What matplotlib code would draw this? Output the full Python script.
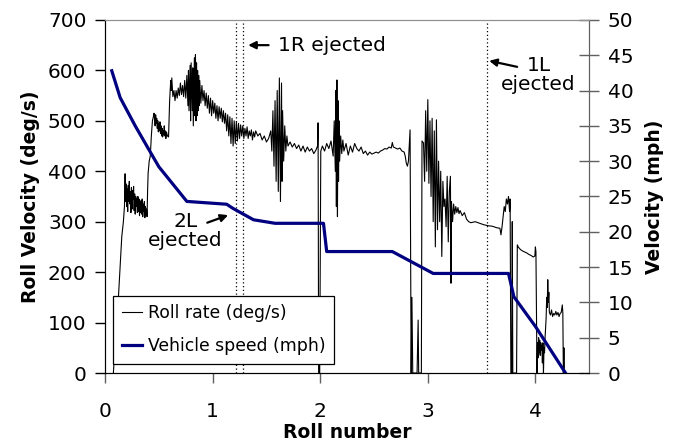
import numpy as np
import matplotlib.pyplot as plt

plt.rcParams['font.family'] = ['DejaVu Sans']

# roll rate (deg/s)
roll_x = [0.077, 0.10, 0.124, 0.14, 0.155, 0.17, 0.18, 0.186,
          0.19, 0.195, 0.20, 0.205, 0.21, 0.215, 0.22, 0.225, 0.23, 0.235, 0.24, 0.245,
          0.25, 0.255, 0.26, 0.265, 0.27, 0.275, 0.28, 0.285, 0.29, 0.295, 0.30, 0.305,
          0.31, 0.315, 0.32, 0.325, 0.33, 0.335, 0.34, 0.345, 0.35, 0.355, 0.36, 0.365,
          0.37, 0.375, 0.38, 0.385, 0.39,
          0.395, 0.40, 0.41, 0.42, 0.43, 0.44, 0.45,
          0.455, 0.46, 0.465, 0.47, 0.475, 0.48, 0.485, 0.49, 0.495, 0.50, 0.505, 0.51,
          0.515, 0.52, 0.525, 0.53, 0.535, 0.54, 0.545, 0.55, 0.555, 0.56, 0.565, 0.57,
          0.58, 0.59,
          0.60, 0.61, 0.615, 0.62, 0.63, 0.64, 0.65, 0.66, 0.67, 0.68, 0.69, 0.70, 0.71,
          0.72, 0.73, 0.74, 0.75, 0.76, 0.77, 0.775, 0.78, 0.79, 0.795, 0.80, 0.81, 0.815,
          0.82, 0.83, 0.835, 0.84, 0.845, 0.85, 0.855, 0.86, 0.865, 0.87, 0.875, 0.88,
          0.89, 0.90, 0.91, 0.92, 0.93, 0.94, 0.95, 0.96, 0.97, 0.98, 0.99, 1.00, 1.01,
          1.02, 1.03, 1.04, 1.05, 1.06, 1.07, 1.08, 1.09, 1.10, 1.11, 1.12, 1.13, 1.14,
          1.15, 1.16, 1.17, 1.18, 1.19, 1.20, 1.21, 1.22, 1.23, 1.24, 1.25, 1.26, 1.27,
          1.28, 1.29, 1.30, 1.31, 1.32, 1.33, 1.34, 1.35, 1.36, 1.37, 1.38, 1.39, 1.40,
          1.42, 1.44, 1.46, 1.48, 1.50, 1.52,
          1.54, 1.55, 1.56, 1.57, 1.58, 1.59, 1.60, 1.61, 1.62, 1.63, 1.64, 1.645, 1.65,
          1.66, 1.67, 1.68, 1.69, 1.70, 1.72, 1.74, 1.76, 1.78, 1.80, 1.82, 1.84, 1.86,
          1.88, 1.90, 1.92, 1.94, 1.96, 1.975,
          1.98, 1.985, 1.995, 2.005,
          2.02, 2.04, 2.06, 2.08, 2.10, 2.12, 2.13, 2.14, 2.145, 2.15, 2.155, 2.16, 2.165,
          2.17, 2.175, 2.18, 2.19, 2.20, 2.21, 2.22, 2.24, 2.26, 2.28, 2.30, 2.32, 2.34,
          2.36, 2.38, 2.40, 2.42, 2.44, 2.46, 2.48, 2.50, 2.52, 2.54, 2.56, 2.58, 2.60,
          2.62, 2.64, 2.66, 2.67, 2.68, 2.70, 2.72, 2.74, 2.76, 2.78, 2.79, 2.80, 2.81,
          2.82, 2.835,
          2.845, 2.852, 2.86, 2.90, 2.91, 2.915, 2.94,
          2.946, 2.96, 2.97, 2.98, 2.99, 3.00, 3.01, 3.02, 3.03, 3.04, 3.05, 3.06, 3.07,
          3.08, 3.09, 3.10, 3.11, 3.12, 3.13, 3.14, 3.15, 3.16, 3.17, 3.18, 3.19, 3.20,
          3.21, 3.215, 3.22, 3.23, 3.24, 3.25, 3.26, 3.27, 3.28, 3.29, 3.30, 3.32, 3.34,
          3.36, 3.38, 3.40, 3.44, 3.48, 3.52, 3.56, 3.60, 3.64, 3.67, 3.68, 3.69, 3.70,
          3.71, 3.72, 3.73, 3.74, 3.75, 3.76, 3.765,
          3.772, 3.78, 3.785, 3.79, 3.825,
          3.832, 3.84, 3.86, 3.88, 3.90, 3.92, 3.94, 3.96, 3.98, 3.995, 4.0, 4.005,
          4.015, 4.02, 4.025, 4.03, 4.035, 4.04, 4.045, 4.05, 4.055, 4.06, 4.065, 4.07,
          4.075, 4.08, 4.085, 4.09, 4.10, 4.105, 4.11, 4.115, 4.12, 4.125, 4.13, 4.14,
          4.15, 4.16, 4.17, 4.18, 4.19, 4.20, 4.21, 4.22, 4.23, 4.24, 4.25, 4.255,
          4.26, 4.265, 4.27]
roll_deg = [0, 80, 150, 210, 270, 300, 330, 395,
            340, 375, 330, 365, 320, 372, 340, 380, 335, 360, 318, 368,
            325, 362, 345, 370, 322, 355, 315, 350, 330, 345, 318, 350,
            320, 345, 312, 340, 318, 342, 315, 345, 310, 335, 320, 340,
            308, 330, 315, 325, 310,
            360, 396, 420, 430, 470, 500, 509,
            515, 505, 490, 512, 495, 505, 485, 500, 478, 495, 480, 498,
            475, 490, 470, 485, 468, 480, 472, 490, 470, 480, 465, 478,
            470, 468,
            540, 580, 560, 585, 548, 560, 540, 560, 545, 565, 550, 575, 552,
            570, 548, 580, 545, 590, 530, 600, 520, 610, 500, 615, 520, 605,
            490, 625, 510, 631, 500, 615, 510, 600, 520, 590, 530, 580,
            535, 570, 540, 560, 530, 555, 525, 550, 515, 545, 510, 540, 515,
            535, 505, 530, 500, 528, 505, 525, 498, 520, 495, 515, 480, 512,
            470, 508, 455, 505, 450, 500, 455, 498, 460, 495, 465, 492, 470,
            490, 465, 485, 470, 488, 465, 480, 470, 482, 462, 478, 468, 480,
            470, 475, 462, 470, 458, 465,
            480, 440, 520, 410, 540, 380, 560, 360, 585, 340, 575, 380, 520,
            420, 490, 440, 470, 450, 458, 448, 455, 445, 452, 440, 450, 438,
            448, 440, 445, 435, 442, 450,
            496, 0, 0, 440,
            450, 440, 455, 445, 460, 430, 500, 400, 560, 330, 581, 310, 540,
            380, 500, 420, 470, 435, 462, 440, 455, 432, 450, 438, 455, 445,
            440, 448, 435, 440, 432, 438, 434, 436, 438, 436, 440, 442, 445,
            444, 448, 446, 457, 448, 446, 444, 446, 440, 438, 430, 416, 410,
            420, 482,
            0, 150, 0, 0, 105, 0, 0,
            460, 456, 380, 520, 400, 542, 376, 500, 350, 505, 300, 480, 250,
            502, 284, 420, 300, 400, 231, 380, 330, 345, 290, 390, 260, 360,
            390, 178, 340, 300, 335, 315, 330, 318, 328, 316, 322, 312, 318,
            305, 300, 298, 300, 297, 294, 292, 291, 288, 287, 274, 290, 310,
            330, 320, 345, 335, 350, 320, 345,
            0, 0, 300, 0, 0,
            254, 250, 245, 242, 240, 238, 235, 233, 230, 232, 250, 240,
            0, 60, 30, 70, 40, 65, 35, 60, 45, 55, 20, 60,
            0, 50, 40, 70, 110, 150, 130, 185, 140, 160, 120, 115,
            125, 112, 118, 115, 122, 115, 120, 112, 118, 120, 135, 120,
            0, 50, 0]

# vehicle speed (mph)
speed_x = [0.062, 0.14, 0.28, 0.42, 0.50, 0.76, 1.13, 1.19, 1.38, 1.58, 2.03, 2.06,
           2.67, 3.05, 3.75, 3.80, 4.0, 4.28]
speed_mph = [42.8, 39.0, 35.0, 31.3, 29.2, 24.3, 23.9, 23.3, 21.7, 21.2, 21.2, 17.2,
             17.2, 14.1, 14.1, 10.8, 6.6, 0]

events_x = [1.215, 1.285, 3.55]

fig = plt.figure(figsize=(6.78, 4.43), dpi=100)
ax = fig.add_axes([0.155, 0.158, 0.714, 0.797])
ax2 = ax.twinx()

l1, = ax.plot(roll_x, roll_deg, color='black', lw=0.8, label='Roll rate (deg/s)')
l2, = ax2.plot(speed_x, speed_mph, color='#000080', lw=2.3, label='Vehicle speed (mph)')

for ev in events_x:
    ax.axvline(ev, color='black', ls=(0, (1, 2)), lw=0.9)

ax.set_xlim(0, 4.5)
ax.set_ylim(0, 700)
ax2.set_ylim(0, 50)
ax.set_xticks([0, 1, 2, 3, 4])
ax.set_yticks(np.arange(0, 701, 100))
ax2.set_yticks(np.arange(0, 51, 5))

ax.tick_params(axis='y', direction='out', length=7, width=1, labelsize=14.5, pad=6.4)
ax.tick_params(axis='x', direction='out', length=7, width=1, labelsize=14.5, pad=14,
               color='#606060')
ax2.tick_params(axis='y', direction='inout', length=15, width=1, labelsize=14.5, pad=6,
                color='#606060')

for a in (ax, ax2):
    a.spines['top'].set_color('#909090')
    a.spines['right'].set_color('#606060')
    a.spines['left'].set_color('black')
    a.spines['bottom'].set_color('black')

ax.set_xlabel('Roll number', fontsize=13.5, fontweight='bold', labelpad=1)
ax.set_ylabel('Roll Velocity (deg/s)', fontsize=13.5, fontweight='bold', labelpad=6)
ax2.set_ylabel('Velocity (mph)', fontsize=13.5, fontweight='bold', labelpad=8)

arrow = dict(arrowstyle='-|>', color='black', lw=1.6, mutation_scale=11, shrinkA=0, shrinkB=0)
ax.annotate('', xy=(1.33, 650), xytext=(1.52, 650), arrowprops=arrow)
ax.text(1.61, 650, '1R ejected', fontsize=14.5, ha='left', va='center')
ax.annotate('', xy=(3.57, 619), xytext=(3.83, 607), arrowprops=arrow)
ax.text(4.03, 590, '1L\nejected', fontsize=14.5, ha='center', va='center', linespacing=1.0)
ax.annotate('', xy=(1.144, 313), xytext=(0.95, 298), arrowprops=arrow)
ax.text(0.745, 281, '2L\nejected', fontsize=14.5, ha='center', va='center', linespacing=1.0)

leg = ax2.legend([l1, l2], ['Roll rate (deg/s)', 'Vehicle speed (mph)'],
                 loc='lower left', bbox_to_anchor=(0.0165, 0.0255), borderaxespad=0,
                 fontsize=12.4, fancybox=False, framealpha=1, edgecolor='black',
                 handlelength=1.2, handletextpad=0.3, labelspacing=0.87, borderpad=0.5)
leg.get_frame().set_linewidth(0.9)
leg.set_zorder(20)

fig.savefig('out.png', dpi=100)
